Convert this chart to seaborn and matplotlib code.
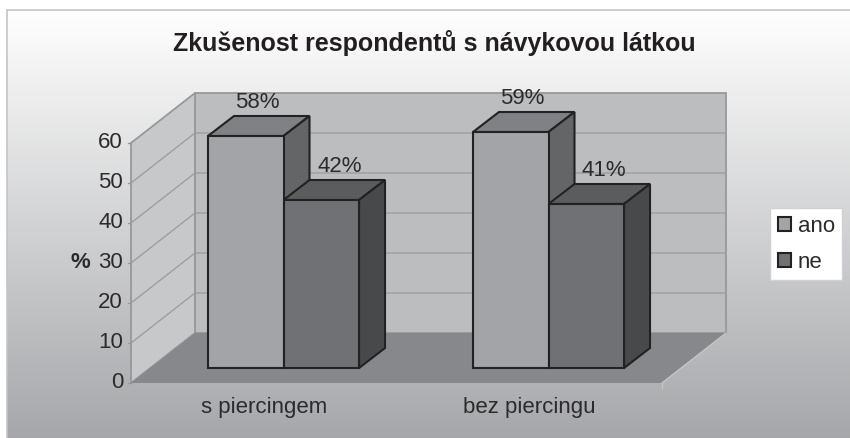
import numpy as np
import pandas as pd
import seaborn as sns
import matplotlib.pyplot as plt
from matplotlib.colors import LinearSegmentedColormap
from matplotlib.patches import Polygon, Rectangle

title = 'Zkušenost respondentů s návykovou látkou'
categories = ['s piercingem', 'bez piercingu']
series_names = ['ano', 'ne']
ano_values = [58, 59]
ne_values = [42, 41]
y_ticks = [0, 10, 20, 30, 40, 50, 60]
y_label = '%'

front_colors = ['#a3a4a7', '#707174']
top_colors = ['#808184', '#5b5c5e']
side_colors = ['#646567', '#48494b']
label_shift = [-1.5, 5]     # pixels, the value labels of the two series sit apart

W, H = 850, 438
X_SCALE, Y_SCALE = 265, 4   # pixels per category / per percent
X0, Y0 = 283.5, 368         # pixel of first group centre and of y=0 on bar plane


def px(x):
    return (x - X0) / X_SCALE


def py(y):
    return (Y0 - y) / Y_SCALE


sns.set_theme(style='white')
plt.rcParams['font.family'] = ['Liberation Sans', 'DejaVu Sans']

df = pd.DataFrame({
    'kategorie': categories * 2,
    'odpoved': [series_names[0]] * 2 + [series_names[1]] * 2,
    'procenta': ano_values + ne_values,
})

fig = plt.figure(figsize=(W / 100, H / 100), dpi=100, facecolor='white')
ax = fig.add_axes([0, 0, 1, 1])

# Background of the chart area
cmap = LinearSegmentedColormap.from_list('bg', ['#ffffff', '#a5a6a9'])
ax.imshow(np.linspace(0, 1, 256).reshape(-1, 1), cmap=cmap, aspect='auto', zorder=0,
          extent=(px(7), px(W + 5), py(H + 5), py(10)))
ax.add_patch(Rectangle((px(7), py(H + 5)), px(W + 5) - px(7), py(10) - py(H + 5),
                       fill=False, ec='#c4c5c7', lw=1.2, zorder=1))

# Walls and floor of the 3D box
wall_dx, wall_dy = 64 / X_SCALE, 50 / Y_SCALE
front_y0 = py(383)
front_left, front_right = px(131), px(662)
y_max = max(y_ticks)
wall_top = front_y0 + y_max


def box_poly(points, color, edge='none', zorder=2, lw=1.0):
    ax.add_patch(Polygon(points, closed=True, fc=color, ec=edge, lw=lw, zorder=zorder))


box_poly([(front_left + wall_dx, front_y0 + wall_dy),
          (front_right + wall_dx, front_y0 + wall_dy),
          (front_right + wall_dx, wall_top + wall_dy),
          (front_left + wall_dx, wall_top + wall_dy)], '#bcbdbf', '#97989b', lw=1.3)
box_poly([(front_left, front_y0), (front_left + wall_dx, front_y0 + wall_dy),
          (front_left + wall_dx, wall_top + wall_dy), (front_left, wall_top)],
         '#c7c8ca', '#97989b', lw=1.3)

for t in y_ticks[1:-1]:
    ax.plot([front_left, front_left + wall_dx, front_right + wall_dx],
            [front_y0 + t, front_y0 + t + wall_dy, front_y0 + t + wall_dy],
            color='#9d9ea1', lw=1.0, zorder=2.5)

box_poly([(front_left, front_y0), (front_right, front_y0),
          (front_right + wall_dx, front_y0 + wall_dy),
          (front_left + wall_dx, front_y0 + wall_dy)], '#87888b', zorder=3)
ax.plot([front_right, front_right + wall_dx], [front_y0, front_y0 + wall_dy],
        color='#c4c5c7', lw=1.0, zorder=3)
ax.plot([front_right, front_right], [front_y0, py(388)], color='#c4c5c7', lw=1.0, zorder=3)

# Front faces of the bars
sns.barplot(data=df, x='kategorie', y='procenta', hue='odpoved', hue_order=series_names,
            palette=front_colors, saturation=1, width=0.57, gap=0, edgecolor='#222222',
            linewidth=1.5, ax=ax, zorder=6)

# Top and side of each bar, built from the seaborn patches
bar_dx, bar_dy = 26 / X_SCALE, 20 / Y_SCALE
for s, container in enumerate(ax.containers):
    for bar, value in zip(container, container.datavalues):
        x0, x1 = bar.get_x(), bar.get_x() + bar.get_width()
        box_poly([(x0, value), (x1, value), (x1 + bar_dx, value + bar_dy),
                  (x0 + bar_dx, value + bar_dy)], top_colors[s], '#222222', 4 + s * 0.5, 1.5)
        box_poly([(x1, 0), (x1 + bar_dx, bar_dy), (x1 + bar_dx, value + bar_dy),
                  (x1, value)], side_colors[s], '#222222', 4 + s * 0.5, 1.5)
        ax.text((x0 + x1 + bar_dx) / 2 + label_shift[s] / X_SCALE, value + bar_dy + 0.7,
                f'{value:.0f}%', ha='center', va='bottom', fontsize=16, color='#2b2b2d',
                zorder=7)

# Value axis, drawn on the front edge of the left wall
for t in y_ticks:
    ax.plot([front_left - 3 / X_SCALE, front_left], [front_y0 + t, front_y0 + t],
            color='#97989b', lw=1.0, zorder=2)
    ax.text(px(123), front_y0 + t, str(t), ha='right', va='center', fontsize=16,
            color='#2b2b2d')
ax.text(px(80), front_y0 + 30, y_label, ha='center', va='center', fontsize=16,
        fontweight='bold', color='#2b2b2d')

# Category labels, centred on the floor front edge
step = (front_right - front_left) / len(categories)
for i, cat in enumerate(categories):
    ax.text(front_left + (i + 0.5) * step, py(407), cat, ha='center', va='center',
            fontsize=16, color='#2b2b2d')

ax.text(px(434), py(43), title, ha='center', va='center', fontsize=18,
        fontweight='bold', color='#231f20')

ax.set_xlim(px(0), px(W))
ax.set_ylim(py(H), py(0))
ax.axis('off')

sns.move_legend(ax, 'upper left', bbox_to_anchor=(770 / W, 1 - 208 / H), title=None,
                frameon=True, fontsize=16, handlelength=0.6, handleheight=0.6,
                handletextpad=0.3, labelspacing=0.68, borderpad=0.34, borderaxespad=0,
                fancybox=False, framealpha=1, facecolor='white', edgecolor='#d0d1d3',
                labelcolor='#2b2b2d')

fig.savefig('out.png', dpi=100)
